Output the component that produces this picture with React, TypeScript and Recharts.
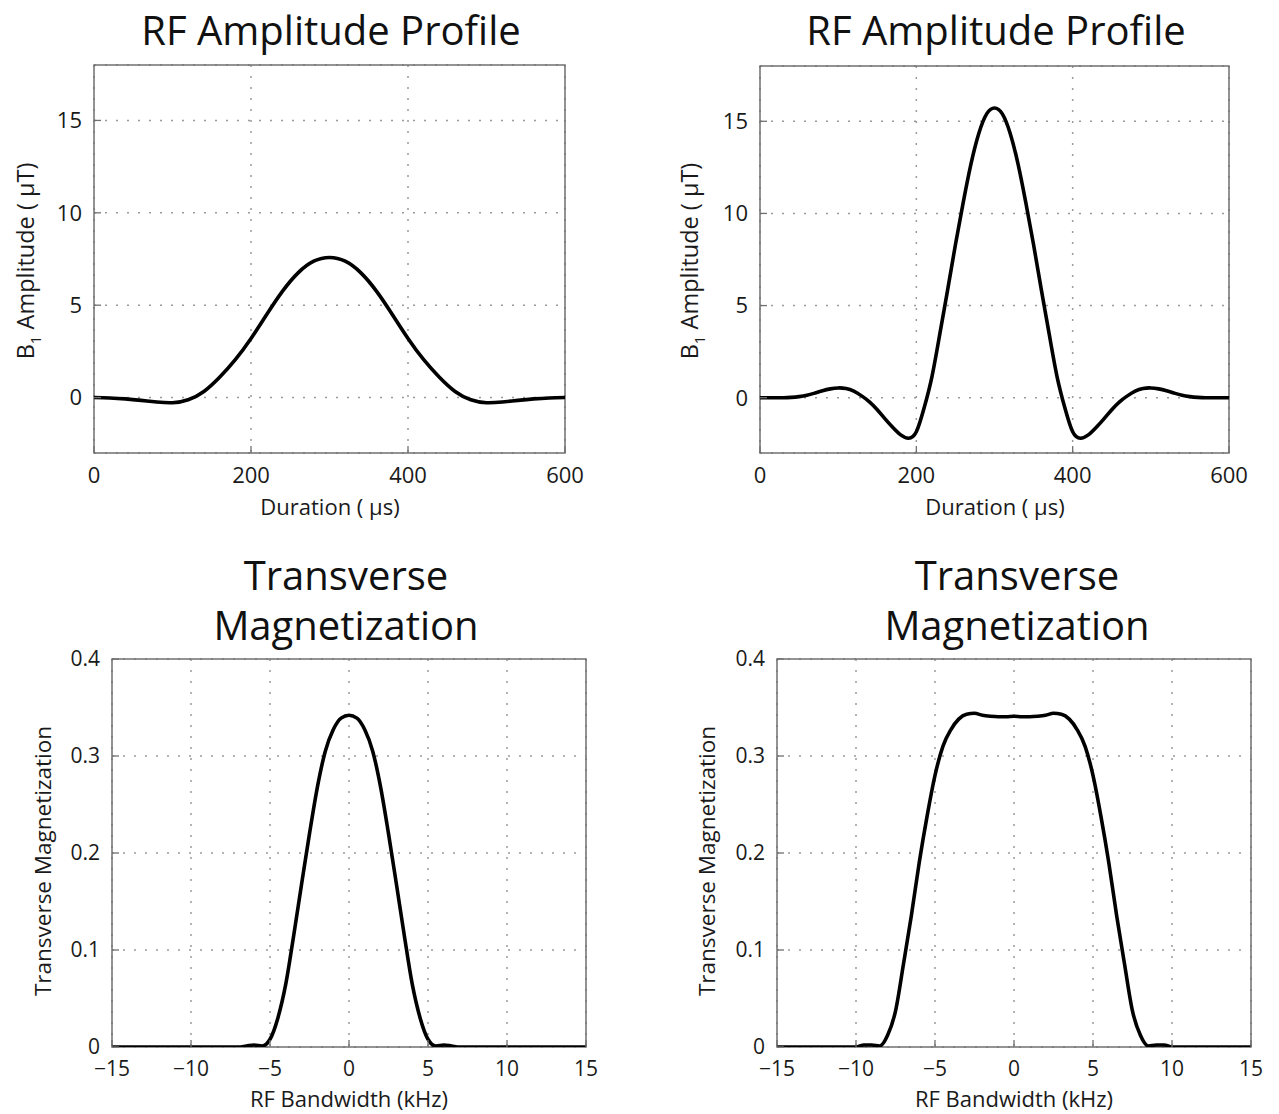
import { LineChart, Line, XAxis, YAxis, CartesianGrid, ReferenceArea } from "recharts";

const FONT = '"Open Sans", "Noto Sans", sans-serif';

// top row: RF pulse envelopes, duration in µs, amplitude in µT
const durationSinc1 = [
  0, 20, 40, 60, 80, 100, 120, 140, 160, 180, 200, 220, 240, 260, 280, 300,
  320, 340, 360, 380, 400, 420, 440, 460, 480, 500, 520, 540, 560, 580, 600,
];
const amplitudeSinc1 = [
  0, -0.02, -0.07, -0.15, -0.24, -0.28, -0.12, 0.33, 1.1, 2.05, 3.2, 4.5, 5.75, 6.75, 7.38, 7.58,
  7.38, 6.75, 5.75, 4.5, 3.2, 2.05, 1.1, 0.33, -0.12, -0.28, -0.24, -0.15, -0.07, -0.02, 0,
];

const durationSinc3 = [
  0, 10, 20, 30, 40, 50, 60, 70, 80, 90, 100, 110, 120, 130, 140, 150, 160, 170, 180, 190,
  200, 210, 220, 230, 240, 250, 260, 270, 280, 290, 300, 310, 320, 330, 340, 350, 360, 370, 380, 390,
  400, 410, 420, 430, 440, 450, 460, 470, 480, 490, 500, 510, 520, 530, 540, 550, 560, 570, 580, 590, 600,
];
const amplitudeSinc3 = [
  0, 0, 0, 0, 0.02, 0.06, 0.13, 0.25, 0.38, 0.48, 0.53, 0.5, 0.36, 0.1, -0.22, -0.65, -1.15, -1.62, -2.02, -2.2,
  -1.85, -0.55, 1.15, 3.45, 5.84, 8.3, 10.6, 12.7, 14.35, 15.4, 15.72, 15.4, 14.35, 12.7, 10.6, 8.3, 5.84, 3.45, 1.15, -0.55,
  -1.85, -2.2, -2.02, -1.62, -1.15, -0.65, -0.22, 0.1, 0.36, 0.5, 0.53, 0.48, 0.38, 0.25, 0.13, 0.06, 0.02, 0, 0, 0, 0,
];

// bottom row: transverse magnetization vs. offset frequency in kHz
const bandwidthKHz = [
  -15, -14.5, -14, -13.5, -13, -12.5, -12, -11.5, -11, -10.5, -10, -9.5, -9, -8.5, -8, -7.5, -7, -6.5, -6, -5.5,
  -5, -4.5, -4, -3.5, -3, -2.5, -2, -1.5, -1, -0.5, 0, 0.5, 1, 1.5, 2, 2.5, 3, 3.5, 4, 4.5,
  5, 5.5, 6, 6.5, 7, 7.5, 8, 8.5, 9, 9.5, 10, 10.5, 11, 11.5, 12, 12.5, 13, 13.5, 14, 14.5, 15,
];
const mxyNarrow = [
  0, 0, 0, 0, 0, 0, 0, 0, 0, 0, 0, 0, 0, 0, 0, 0, 0, 0.001, 0.002, 0.001,
  0.008, 0.03, 0.065, 0.115, 0.168, 0.22, 0.268, 0.305, 0.327, 0.339, 0.342, 0.339, 0.327, 0.305, 0.268, 0.22, 0.168, 0.115, 0.065, 0.03,
  0.008, 0.001, 0.002, 0.001, 0, 0, 0, 0, 0, 0, 0, 0, 0, 0, 0, 0, 0, 0, 0, 0, 0,
];
const mxyWide = [
  0, 0, 0, 0, 0, 0, 0, 0, 0, 0, 0, 0.002, 0.002, 0.001, 0.012, 0.037, 0.085, 0.135, 0.19, 0.238,
  0.28, 0.31, 0.327, 0.338, 0.343, 0.344, 0.342, 0.341, 0.3405, 0.3405, 0.341, 0.3405, 0.3405, 0.341, 0.342, 0.344, 0.343, 0.338, 0.327, 0.31,
  0.28, 0.238, 0.19, 0.135, 0.085, 0.037, 0.012, 0.001, 0.002, 0.002, 0, 0, 0, 0, 0, 0, 0, 0, 0, 0, 0,
];

const durationTicks = [0, 200, 400, 600];
const amplitudeTicks = [0, 5, 10, 15];
const bandwidthTicks = [-15, -10, -5, 0, 5, 10, 15];
const mxyTicks = [0, 0.1, 0.2, 0.3, 0.4];

const toRows = (xs: number[], ys: number[]) => xs.map((x, i) => ({ x, y: ys[i] }));

const minusFmt = (v: number) => (v < 0 ? `\u2212${-v}` : `${v}`);
const mxyFmt = (v: number) => (v === 0 ? "0" : v.toFixed(1));

const FRAME = "#707070";
const TICK_IN = -7; // matlab style ticks pointing into the box

interface PanelProps {
  left: number;
  top: number;
  width: number;
  height: number;
  rows: { x: number; y: number }[];
  xDomain: [number, number];
  xTicks: number[];
  yDomain: [number, number];
  yTicks: number[];
  yWidth: number;
  marginTop: number;
  marginRight: number;
  fontSize: number;
  xTickGap: number;
  curve: "natural" | "monotone";
  xFmt?: (v: number) => string;
  yFmt?: (v: number) => string;
}

function Panel(p: PanelProps) {
  const tick = { fill: "#1a1a1a", fontSize: p.fontSize, fontFamily: FONT };
  const tickLine = { stroke: FRAME, strokeWidth: 1.3 };
  return (
    <div style={{ position: "absolute", left: p.left, top: p.top }}>
      <LineChart
        width={p.width}
        height={p.height}
        data={p.rows}
        margin={{ top: p.marginTop, right: p.marginRight, bottom: 0, left: 0 }}
      >
        <CartesianGrid stroke="#9a9a9a" strokeDasharray="2 9" strokeWidth={1.5} />
        <XAxis
          dataKey="x"
          type="number"
          domain={p.xDomain}
          ticks={p.xTicks}
          allowDataOverflow
          height={67}
          tickLine={tickLine}
          tickSize={TICK_IN}
          tickMargin={p.xTickGap - TICK_IN}
          axisLine={false}
          tick={tick}
          tickFormatter={p.xFmt}
        />
        <XAxis
          xAxisId="top"
          orientation="top"
          dataKey="x"
          type="number"
          domain={p.xDomain}
          ticks={p.xTicks}
          allowDataOverflow
          height={0}
          tickLine={tickLine}
          tickSize={TICK_IN}
          axisLine={false}
          tick={false}
        />
        <YAxis
          type="number"
          domain={p.yDomain}
          ticks={p.yTicks}
          allowDataOverflow
          width={p.yWidth}
          tickLine={tickLine}
          tickSize={TICK_IN}
          tickMargin={12 - TICK_IN}
          axisLine={false}
          tick={tick}
          tickFormatter={p.yFmt}
        />
        <YAxis
          yAxisId="right"
          orientation="right"
          type="number"
          domain={p.yDomain}
          ticks={p.yTicks}
          allowDataOverflow
          width={0}
          tickLine={tickLine}
          tickSize={TICK_IN}
          axisLine={false}
          tick={false}
        />
        <ReferenceArea
          x1={p.xDomain[0]}
          x2={p.xDomain[1]}
          y1={p.yDomain[0]}
          y2={p.yDomain[1]}
          fill="none"
          stroke={FRAME}
          strokeWidth={1.5}
          ifOverflow="visible"
        />
        <Line
          dataKey="y"
          type={p.curve}
          stroke="#000"
          strokeWidth={3.6}
          dot={false}
          isAnimationActive={false}
        />
      </LineChart>
    </div>
  );
}

function YLabelB1({ x, y }: { x: number; y: number }) {
  return (
    <text x={x} y={y} transform={`rotate(-90 ${x} ${y})`} textAnchor="middle" fontSize={23.5} fill="#1a1a1a">
      B<tspan fontSize={15} dy={7}>1</tspan>
      <tspan dy={-7}> Amplitude ( μT)</tspan>
    </text>
  );
}

export default function App() {
  return (
    <div
      style={{
        position: "absolute",
        left: 0,
        top: 0,
        width: 1279,
        height: 1114,
        background: "#fff",
        fontFamily: FONT,
      }}
    >
      <Panel
        left={0}
        top={0}
        width={600}
        height={520}
        rows={toRows(durationSinc1, amplitudeSinc1)}
        xDomain={[0, 600]}
        xTicks={durationTicks}
        yDomain={[-3, 18]}
        yTicks={amplitudeTicks}
        yWidth={94}
        marginTop={65}
        marginRight={35}
        fontSize={22}
        xTickGap={14}
        curve="natural"
      />
      <Panel
        left={660}
        top={0}
        width={600}
        height={520}
        rows={toRows(durationSinc3, amplitudeSinc3)}
        xDomain={[0, 600]}
        xTicks={durationTicks}
        yDomain={[-3, 18]}
        yTicks={amplitudeTicks}
        yWidth={100}
        marginTop={66}
        marginRight={31}
        fontSize={22}
        xTickGap={14}
        curve="natural"
      />
      <Panel
        left={0}
        top={600}
        width={620}
        height={514}
        rows={toRows(bandwidthKHz, mxyNarrow)}
        xDomain={[-15, 15]}
        xTicks={bandwidthTicks}
        yDomain={[0, 0.4]}
        yTicks={mxyTicks}
        yWidth={112}
        marginTop={59}
        marginRight={34}
        fontSize={21}
        xTickGap={14}
        curve="monotone"
        xFmt={minusFmt}
        yFmt={mxyFmt}
      />
      <Panel
        left={660}
        top={600}
        width={620}
        height={514}
        rows={toRows(bandwidthKHz, mxyWide)}
        xDomain={[-15, 15]}
        xTicks={bandwidthTicks}
        yDomain={[0, 0.4]}
        yTicks={mxyTicks}
        yWidth={117}
        marginTop={59}
        marginRight={29}
        fontSize={21}
        xTickGap={14}
        curve="monotone"
        xFmt={minusFmt}
        yFmt={mxyFmt}
      />
      <svg
        width={1279}
        height={1114}
        style={{ position: "absolute", left: 0, top: 0, pointerEvents: "none", fontFamily: FONT }}
      >
        <text x={331} y={45} textAnchor="middle" fontSize={40} fill="#111">RF Amplitude Profile</text>
        <text x={996} y={45} textAnchor="middle" fontSize={40} fill="#111">RF Amplitude Profile</text>
        <text x={330} y={515} textAnchor="middle" fontSize={22} fill="#1a1a1a">Duration ( μs)</text>
        <text x={995} y={515} textAnchor="middle" fontSize={22} fill="#1a1a1a">Duration ( μs)</text>
        <YLabelB1 x={34} y={261} />
        <YLabelB1 x={698} y={261} />

        <text x={346} y={590} textAnchor="middle" fontSize={40} fill="#111">Transverse</text>
        <text x={346} y={640} textAnchor="middle" fontSize={40} fill="#111">Magnetization</text>
        <text x={1017} y={590} textAnchor="middle" fontSize={40} fill="#111">Transverse</text>
        <text x={1017} y={640} textAnchor="middle" fontSize={40} fill="#111">Magnetization</text>
        <text x={349} y={1107} textAnchor="middle" fontSize={22} fill="#1a1a1a">RF Bandwidth (kHz)</text>
        <text x={1014} y={1107} textAnchor="middle" fontSize={22} fill="#1a1a1a">RF Bandwidth (kHz)</text>
        <text x={51} y={861} transform="rotate(-90 51 861)" textAnchor="middle" fontSize={22.5} fill="#1a1a1a">
          Transverse Magnetization
        </text>
        <text x={715} y={861} transform="rotate(-90 715 861)" textAnchor="middle" fontSize={22.5} fill="#1a1a1a">
          Transverse Magnetization
        </text>
      </svg>
    </div>
  );
}
